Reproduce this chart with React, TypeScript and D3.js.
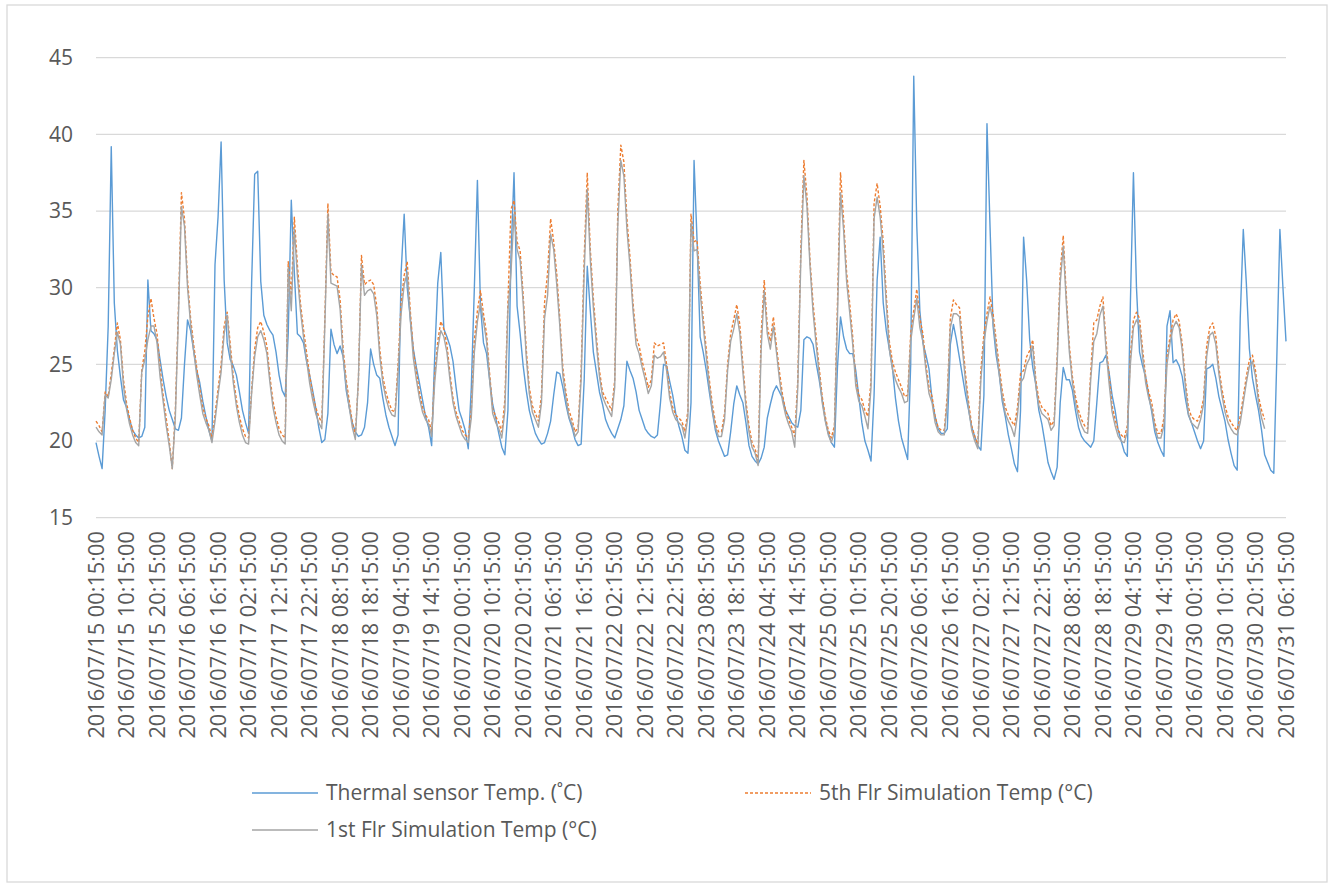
import React from "react";
import * as d3 from "d3";

// hourly readings, 2016/07/15 00:15 onwards
const thermalSensor = [
  19.9, 19.0, 18.2, 22.0, 27.5, 39.2, 29.0, 25.9, 24.2, 22.7,
  22.2, 21.4, 20.7, 20.4, 20.2, 20.3, 20.9, 30.5, 27.2, 27.0,
  26.6, 25.3, 24.0, 22.9, 22.0, 21.4, 20.8, 20.7, 21.5, 25.0,
  27.9, 27.2, 25.9, 24.6, 23.8, 22.6, 21.6, 20.7, 20.0, 31.5,
  34.6, 39.5, 30.5, 26.4, 25.3, 24.9, 24.3, 23.2, 22.0, 21.2,
  20.5, 30.3, 37.4, 37.6, 30.4, 28.2, 27.6, 27.2, 26.9, 25.8,
  24.3, 23.3, 22.9, 27.0, 35.7, 31.0, 27.0, 26.8, 26.4, 25.2,
  24.3, 23.3, 22.2, 20.9, 19.9, 20.1, 21.8, 27.3, 26.3, 25.7,
  26.2, 25.5, 23.3, 22.2, 21.2, 20.6, 20.3, 20.4, 20.9, 22.5,
  26.0, 25.0, 24.3, 24.1, 22.8, 21.7, 20.9, 20.3, 19.7, 20.4,
  31.0, 34.8, 30.0, 28.0, 26.0, 24.8, 23.8, 22.7, 21.6, 20.9,
  19.7, 25.5, 30.3, 32.3, 27.3, 26.8, 26.2, 25.2, 23.5, 22.0,
  21.4, 20.7, 19.5, 23.5, 30.0, 37.0, 28.8, 26.4, 25.7, 24.0,
  22.4, 21.5, 20.5, 19.6, 19.1, 22.0, 32.0, 37.5, 28.8, 27.0,
  24.9, 23.3, 22.0, 21.2, 20.5, 20.1, 19.8, 19.9, 20.5, 21.3,
  23.0, 24.5, 24.4, 23.5, 22.4, 21.5, 20.9, 20.1, 19.7, 19.8,
  24.0, 31.4, 28.5, 25.8, 24.5, 23.2, 22.4, 21.4, 20.9, 20.5,
  20.2, 20.8, 21.4, 22.3, 25.2, 24.6, 24.1, 23.2, 22.0, 21.4,
  20.8, 20.5, 20.3, 20.2, 20.4, 22.5, 25.0, 24.9, 23.9, 23.0,
  21.8, 21.0, 20.3, 19.4, 19.2, 22.5, 38.3, 33.0, 26.8, 25.8,
  24.6, 23.2, 21.9, 20.7, 20.0, 19.5, 19.0, 19.1, 20.6, 22.4,
  23.6, 23.0, 22.5, 21.2, 19.7, 19.0, 18.7, 18.5, 18.9, 19.6,
  21.5, 22.4, 23.2, 23.6, 23.2, 22.8, 22.0, 21.6, 21.2, 21.0,
  20.9, 22.0, 26.6, 26.8, 26.7, 26.3, 25.1, 24.0, 22.7, 21.4,
  20.5, 19.9, 19.6, 24.8, 28.1, 26.8, 26.0, 25.7, 25.7, 24.6,
  22.9, 21.2, 20.0, 19.4, 18.7, 23.0, 30.5, 33.3, 29.0, 27.2,
  26.0, 24.8, 22.8, 21.3, 20.2, 19.5, 18.8, 25.0, 43.8, 34.0,
  28.5, 26.4, 25.6, 24.7, 22.7, 21.6, 20.8, 20.5, 20.5, 20.8,
  26.3, 27.6, 26.6, 25.4, 24.2, 23.0, 22.0, 20.9, 20.3, 19.7,
  19.4, 23.0, 40.7, 34.0, 27.5, 25.6, 24.4, 22.6, 21.6, 20.4,
  19.5, 18.5, 18.0, 22.0, 33.3, 30.5, 26.6, 24.8, 23.7, 22.0,
  21.1, 19.9, 18.6, 18.0, 17.5, 18.3, 22.5, 24.8, 24.0, 24.0,
  23.3, 22.0, 20.9, 20.3, 20.0, 19.8, 19.6, 20.0, 22.5, 25.1,
  25.2, 25.6, 24.5, 23.0, 22.0, 20.7, 20.0, 19.3, 19.0, 29.0,
  37.5, 30.0, 25.8, 24.9, 24.2, 23.0, 21.9, 20.6, 19.9, 19.4,
  19.0, 27.5, 28.5, 25.1, 25.3, 24.9, 24.2, 22.8, 21.7, 21.2,
  20.6, 20.0, 19.5, 20.0, 24.7, 24.8, 25.0, 24.1, 22.9, 22.1,
  21.3, 20.1, 19.2, 18.4, 18.1, 28.0, 33.8, 30.3, 26.0, 24.1,
  23.0, 22.0, 20.7, 19.1, 18.6, 18.1, 17.9, 25.5, 33.8, 30.0,
  26.5,
];

const fifthFloor = [
  21.3, 21.0, 20.6, 23.2, 22.9, 24.4, 26.0, 27.7, 26.6, 24.0,
  22.5, 21.5, 20.7, 20.2, 19.9, 24.6, 25.9, 28.1, 29.3, 28.0,
  27.0, 24.8, 23.0, 21.5, 20.0, 18.2, 22.0, 28.5, 36.2, 34.5,
  30.5, 28.0, 26.3, 24.8, 23.4, 22.2, 21.5, 21.0, 20.2, 21.7,
  23.4, 25.0, 27.5, 28.4, 26.3, 24.2, 22.7, 21.6, 20.8, 20.3,
  20.2, 23.3, 26.0, 27.4, 27.8, 27.1, 26.2, 24.2, 22.6, 21.6,
  20.8, 20.4, 20.2, 31.7, 29.5, 34.6, 31.5, 29.0, 27.3, 25.8,
  24.3, 23.1, 22.2, 21.6, 21.2, 28.0, 35.5, 31.0, 30.8, 30.7,
  29.2, 26.0, 24.0, 22.6, 21.2, 20.4, 24.0, 32.1, 30.2, 30.4,
  30.5, 30.2, 28.8, 26.0, 24.2, 23.2, 22.5, 22.0, 21.9, 25.0,
  29.0, 30.8, 31.7, 28.5, 25.9, 24.5, 23.2, 22.2, 21.7, 21.4,
  20.6, 24.3, 26.5, 27.8, 27.3, 26.3, 24.4, 22.8, 21.9, 21.3,
  20.7, 20.4, 20.2, 22.0, 26.6, 28.5, 29.8, 28.3, 27.0, 24.4,
  22.1, 21.6, 21.2, 20.6, 22.7, 29.0, 35.1, 35.7, 33.0, 32.4,
  29.5, 26.0, 23.5, 22.3, 21.8, 21.3, 23.0, 29.0, 31.0, 34.5,
  33.0, 30.9, 28.0, 24.8, 23.2, 22.0, 21.4, 20.6, 20.9, 24.6,
  32.0, 37.5, 32.5, 29.3, 26.8, 24.6, 23.2, 22.8, 22.4, 22.0,
  24.0, 35.0, 39.3, 38.2, 34.5, 32.0, 29.0, 26.8, 26.2, 25.2,
  24.4, 23.5, 24.0, 26.4, 26.2, 26.3, 26.4, 25.0, 23.2, 22.2,
  21.7, 21.5, 21.3, 20.6, 22.0, 34.8, 33.0, 33.1, 30.3, 28.0,
  26.0, 24.0, 22.4, 21.2, 20.6, 20.6, 21.8, 25.0, 27.0, 27.9,
  28.9, 27.6, 25.0, 22.6, 21.0, 19.9, 19.5, 18.7, 27.0, 30.5,
  27.5, 26.5, 28.1, 26.2, 24.5, 23.0, 22.0, 21.4, 20.9, 20.3,
  24.0, 32.5, 38.3, 36.0, 31.8, 29.0, 26.8, 24.8, 22.9, 21.6,
  20.7, 20.2, 21.0, 29.0, 37.5, 34.5, 31.0, 29.0, 26.8, 24.0,
  23.0, 22.7, 22.0, 21.6, 24.0, 35.5, 36.8, 35.3, 33.0, 29.5,
  26.5, 25.2, 24.5, 24.0, 23.5, 22.9, 23.0, 27.0, 28.5, 29.9,
  28.0, 27.0, 25.0, 23.5, 22.9, 21.6, 20.9, 20.7, 20.7, 23.0,
  28.0, 29.2, 28.9, 28.7, 26.5, 24.3, 22.5, 21.0, 20.3, 19.8,
  24.6, 27.0, 28.3, 29.4, 28.3, 26.6, 24.9, 23.3, 22.2, 21.7,
  21.3, 21.0, 22.2, 24.4, 24.6, 25.5, 25.9, 26.6, 24.0, 22.7,
  22.2, 22.0, 21.8, 21.0, 21.3, 25.5, 31.0, 33.4, 29.5, 26.2,
  24.2, 22.9, 22.0, 21.4, 21.0, 20.8, 24.5, 27.7, 27.9, 28.8,
  29.4, 26.5, 24.3, 22.3, 21.4, 20.7, 20.4, 20.2, 21.0, 25.5,
  27.9, 28.4, 28.0, 26.0, 24.2, 23.2, 22.5, 21.2, 20.5, 20.5,
  21.5, 25.5, 26.8, 27.9, 28.3, 27.8, 26.3, 24.0, 22.2, 21.6,
  21.4, 21.3, 21.8, 22.8, 26.2, 27.4, 27.7, 26.8, 24.8, 23.4,
  22.3, 21.6, 21.2, 20.9, 20.7, 21.6, 22.9, 24.2, 25.3, 25.6,
  24.6, 22.9, 22.0, 21.4,
];

const firstFloor = [
  20.9, 20.6, 20.4, 23.0, 22.8, 24.0, 25.7, 27.1, 26.3, 23.6,
  22.1, 21.1, 20.4, 19.9, 19.7, 24.5, 25.3, 26.6, 27.5, 27.5,
  26.4, 24.2, 22.6, 21.0, 19.7, 18.2, 21.5, 28.0, 35.3, 34.0,
  30.0, 27.6, 25.9, 24.3, 23.0, 21.8, 21.2, 20.7, 19.9, 21.3,
  23.0, 24.5, 27.0, 28.2, 25.8, 23.8, 22.3, 21.2, 20.4, 19.9,
  19.8, 23.1, 25.5, 26.8, 27.2, 26.6, 25.7, 23.8, 22.2, 21.2,
  20.4, 20.0, 19.8, 31.3, 28.5, 33.8, 30.8, 28.5, 26.8, 25.3,
  23.8, 22.7, 21.8, 21.2, 20.8, 27.5, 34.8, 30.3, 30.2, 30.1,
  28.6, 25.5, 23.6, 22.2, 20.9, 20.1, 24.0, 31.5, 29.5, 29.8,
  29.9, 29.6, 28.2, 25.5, 23.8, 22.8, 22.1, 21.7, 21.6, 24.5,
  28.3, 30.2, 31.0, 27.9, 25.4, 24.0, 22.8, 21.9, 21.4, 21.1,
  20.3, 23.8, 26.0, 27.2, 26.8, 25.8, 24.0, 22.5, 21.6, 21.0,
  20.4, 20.1, 19.9, 21.5, 25.8, 27.8, 29.0, 27.8, 26.5, 24.0,
  21.8, 21.2, 20.8, 20.2, 22.0, 28.5, 31.0, 34.8, 32.5, 31.8,
  29.0, 25.5, 23.1, 21.9, 21.4, 20.9, 22.5, 28.0, 29.5, 33.5,
  32.5, 30.2, 27.5, 24.3, 22.8, 21.6, 21.1, 20.3, 20.6, 24.0,
  31.0, 36.4, 31.8, 28.7, 26.3, 24.2, 22.9, 22.4, 22.0, 21.6,
  23.5, 34.0, 38.3, 37.3, 33.8, 31.4, 28.5, 26.3, 25.7, 24.8,
  24.0, 23.1, 23.6, 25.6, 25.4, 25.5, 25.8, 24.6, 22.8, 21.9,
  21.4, 21.2, 21.0, 20.2, 21.6, 34.2, 32.4, 32.5, 29.7, 27.5,
  25.5, 23.6, 22.0, 20.9, 20.3, 20.3, 21.4, 24.6, 26.5, 27.3,
  28.3, 27.0, 24.5, 22.2, 20.6, 19.6, 19.2, 18.4, 26.0, 29.8,
  27.0, 26.0, 27.5, 25.8, 24.0, 22.6, 21.7, 21.1, 20.6, 19.6,
  23.5, 31.8, 37.3, 35.3, 31.4, 28.4, 26.3, 24.4, 22.5, 21.3,
  20.4, 19.9, 20.6, 28.0, 36.2, 33.8, 30.4, 28.4, 26.3, 23.6,
  22.6, 22.3, 21.6, 20.8, 23.5, 34.5, 35.9, 34.6, 32.3, 28.9,
  26.0, 24.7, 24.0, 23.5, 23.1, 22.5, 22.6, 26.5, 28.0, 29.3,
  27.4, 26.5, 24.6, 23.1, 22.5, 21.2, 20.6, 20.4, 20.4, 22.5,
  27.4, 28.3, 28.3, 28.1, 25.9, 23.8, 22.1, 20.7, 20.0, 19.5,
  24.0, 26.4, 27.8, 28.8, 27.8, 26.1, 24.4, 22.9, 21.8, 21.3,
  20.9, 20.3, 21.7, 23.8, 24.1, 25.0, 25.4, 26.2, 23.6, 22.3,
  21.8, 21.6, 21.4, 20.7, 21.0, 25.0, 30.3, 32.7, 29.0, 25.8,
  23.8, 22.5, 21.6, 21.0, 20.6, 20.5, 24.0, 26.5, 27.0, 28.2,
  28.8, 26.0, 23.8, 21.9, 21.0, 20.3, 20.0, 19.9, 20.6, 25.0,
  27.4, 27.9, 27.5, 25.5, 23.8, 22.8, 22.1, 20.9, 20.2, 20.2,
  21.0, 25.0, 26.4, 27.4, 27.8, 27.4, 25.9, 23.6, 21.8, 21.2,
  21.0, 20.8, 21.4, 22.4, 25.5, 26.9, 27.1, 26.3, 24.4, 23.0,
  21.9, 21.2, 20.8, 20.5, 20.4, 21.2, 22.5, 23.8, 24.9, 25.2,
  24.2, 22.5, 21.5, 20.8,
];

const tickLabels = [
  "2016/07/15 00:15:00", "2016/07/15 10:15:00", "2016/07/15 20:15:00",
  "2016/07/16 06:15:00", "2016/07/16 16:15:00", "2016/07/17 02:15:00",
  "2016/07/17 12:15:00", "2016/07/17 22:15:00", "2016/07/18 08:15:00",
  "2016/07/18 18:15:00", "2016/07/19 04:15:00", "2016/07/19 14:15:00",
  "2016/07/20 00:15:00", "2016/07/20 10:15:00", "2016/07/20 20:15:00",
  "2016/07/21 06:15:00", "2016/07/21 16:15:00", "2016/07/22 02:15:00",
  "2016/07/22 12:15:00", "2016/07/22 22:15:00", "2016/07/23 08:15:00",
  "2016/07/23 18:15:00", "2016/07/24 04:15:00", "2016/07/24 14:15:00",
  "2016/07/25 00:15:00", "2016/07/25 10:15:00", "2016/07/25 20:15:00",
  "2016/07/26 06:15:00", "2016/07/26 16:15:00", "2016/07/27 02:15:00",
  "2016/07/27 12:15:00", "2016/07/27 22:15:00", "2016/07/28 08:15:00",
  "2016/07/28 18:15:00", "2016/07/29 04:15:00", "2016/07/29 14:15:00",
  "2016/07/30 00:15:00", "2016/07/30 10:15:00", "2016/07/30 20:15:00",
  "2016/07/31 06:15:00",
];
const labelStep = 10; // hours between labels

const yTicks = [15, 20, 25, 30, 35, 40, 45];

const seriesNames = [
  "Thermal sensor Temp. (˚C)",
  "5th Flr Simulation Temp (°C)",
  "1st Flr Simulation Temp (°C)",
];

const W = 1331;
const H = 884;
const font = "'Open Sans', 'Noto Sans', sans-serif";
const textColor = "#595959";
const gridColor = "#d9d9d9";

const App = () => {
  const x = d3.scaleLinear().domain([0, 390]).range([96, 1286]);
  const y = d3.scaleLinear().domain([15, 45]).range([517.7, 57.7]);

  const line = d3
    .line<number>()
    .x((d, i) => x(i))
    .y((d) => y(d));

  const series = [
    { name: seriesNames[0], data: thermalSensor, color: "#5b9bd5", dash: null },
    { name: seriesNames[1], data: fifthFloor, color: "#ed7d31", dash: "3,2" },
    { name: seriesNames[2], data: firstFloor, color: "#a5a5a5", dash: null },
  ];

  const legend = [
    { s: series[0], x: 252, y: 793 },
    { s: series[1], x: 745, y: 793 },
    { s: series[2], x: 252, y: 830 },
  ];

  return (
    <div style={{ position: "absolute", left: 0, top: 0 }}>
      <svg width={W} height={H} style={{ display: "block", background: "#fff" }}>
        <rect x={7} y={5} width={1320} height={877} fill="#fff" stroke={gridColor} strokeWidth={1.3} />

        {/* gridlines + y labels */}
        {yTicks.map((t) => (
          <g key={t}>
            <line x1={x(0)} x2={x(390)} y1={y(t)} y2={y(t)} stroke={gridColor} strokeWidth={1.3} />
            <text
              x={73}
              y={y(t)}
              dy="0.35em"
              textAnchor="end"
              fontFamily={font}
              fontSize={21}
              fill={textColor}
            >
              {t}
            </text>
          </g>
        ))}

        {/* x labels */}
        {tickLabels.map((lab, i) => (
          <text
            key={lab}
            transform={`translate(${x(i * labelStep)},531) rotate(-90)`}
            dy="0.35em"
            textAnchor="end"
            fontFamily={font}
            fontSize={21.8}
            fill={textColor}
          >
            {lab}
          </text>
        ))}

        {/* series, drawn in Excel order */}
        {series.map((s) => (
          <path
            key={s.name}
            d={line(s.data) || ""}
            fill="none"
            stroke={s.color}
            strokeWidth={1.4}
            strokeDasharray={s.dash || undefined}
            strokeLinejoin="round"
          />
        ))}

        {/* legend */}
        {legend.map((l) => (
          <g key={l.s.name}>
            <line
              x1={l.x}
              x2={l.x + 66}
              y1={l.y}
              y2={l.y}
              stroke={l.s.color}
              strokeWidth={1.4}
              strokeDasharray={l.s.dash || undefined}
            />
            <text
              x={l.x + 74}
              y={l.y}
              dy="0.35em"
              fontFamily={font}
              fontSize={21}
              fill={textColor}
            >
              {l.s.name}
            </text>
          </g>
        ))}
      </svg>
    </div>
  );
};

export default App;
